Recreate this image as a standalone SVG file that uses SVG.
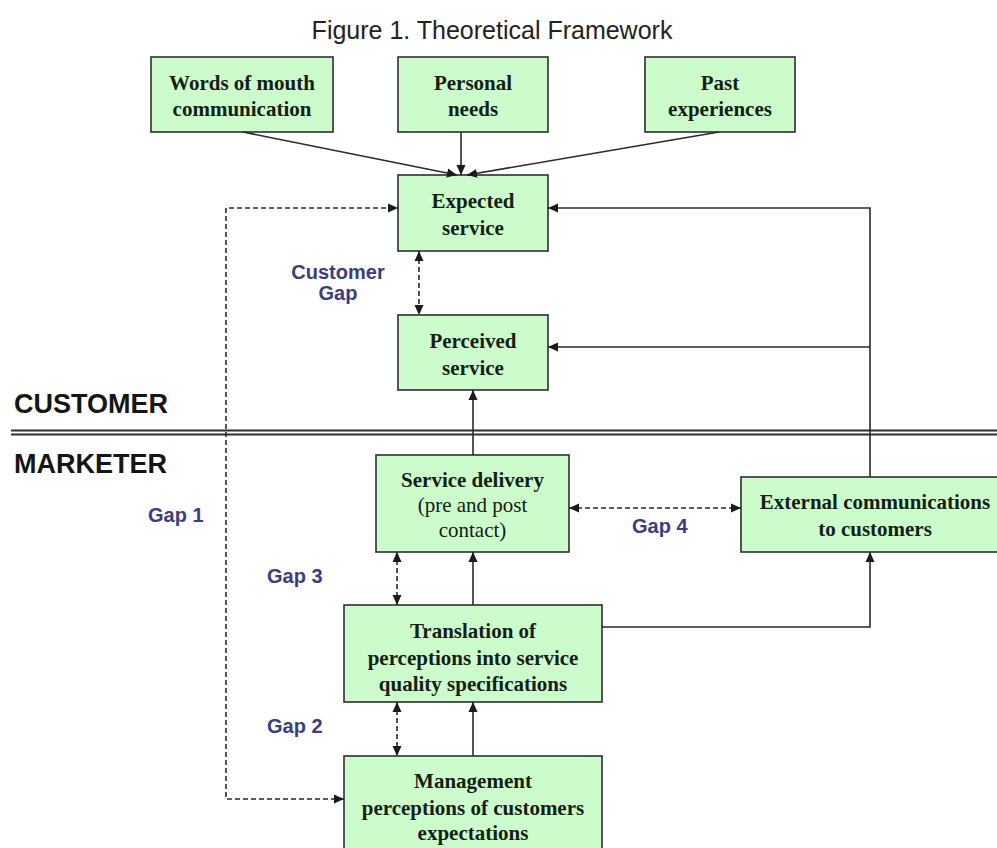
<svg xmlns="http://www.w3.org/2000/svg" width="997" height="848" viewBox="0 0 997 848">
<style>
.box{fill:#ccfccc;stroke:#2e2e2e;stroke-width:1.6}
.bt{font-family:"Liberation Serif","Times New Roman",serif;font-size:21px;font-weight:bold;fill:#142014;text-anchor:middle}
.rt{font-family:"Liberation Serif","Times New Roman",serif;font-size:21px;fill:#142014;text-anchor:middle}
.gap{font-family:"Liberation Sans",Arial,sans-serif;font-size:20px;font-weight:bold;fill:#3c3c7e}
.side{font-family:"Liberation Sans",Arial,sans-serif;font-size:27px;font-weight:bold;fill:#151515}
.ln{fill:none;stroke:#2a2a2a;stroke-width:1.6}
.ds{fill:none;stroke:#2a2a2a;stroke-width:1.6;stroke-dasharray:5 3}
</style>
<defs>
<marker id="ah" viewBox="0 0 10 10" refX="10" refY="5" markerWidth="10" markerHeight="10" markerUnits="userSpaceOnUse" orient="auto-start-reverse">
<path d="M0,0.5 L10,5 L0,9.5 Z" fill="#1a1a1a"/>
</marker>
</defs>
<rect width="997" height="848" fill="#ffffff"/>
<text x="492" y="39" font-family="'Liberation Sans',Arial,sans-serif" font-size="25" fill="#222" text-anchor="middle">Figure 1. Theoretical Framework</text>

<g id="words"><rect class="box" x="151" y="57" width="182" height="75"/><text class="bt" x="242" y="90">Words of mouth</text><text class="bt" x="242" y="116">communication</text></g>
<g id="personal"><rect class="box" x="398" y="57" width="150" height="75"/><text class="bt" x="473" y="90">Personal</text><text class="bt" x="473" y="116">needs</text></g>
<g id="past"><rect class="box" x="645" y="57" width="150" height="75"/><text class="bt" x="720" y="90">Past</text><text class="bt" x="720" y="116">experiences</text></g>
<g id="expected"><rect class="box" x="398" y="175" width="150" height="76"/><text class="bt" x="473" y="208">Expected</text><text class="bt" x="473" y="235">service</text></g>
<g id="perceived"><rect class="box" x="398" y="315" width="150" height="75"/><text class="bt" x="473" y="348">Perceived</text><text class="bt" x="473" y="375">service</text></g>
<g id="delivery"><rect class="box" x="376" y="455" width="193" height="97"/><text class="bt" x="472.5" y="487">Service delivery</text><text class="rt" x="472.5" y="512">(pre and post</text><text class="rt" x="472.5" y="537">contact)</text></g>
<g id="external"><rect class="box" x="741" y="477" width="270" height="75"/><text class="bt" x="875" y="509">External communications</text><text class="bt" x="875" y="536">to customers</text></g>
<g id="translation"><rect class="box" x="344" y="605" width="258" height="97"/><text class="bt" x="473" y="638">Translation of</text><text class="bt" x="473" y="665">perceptions into service</text><text class="bt" x="473" y="691">quality specifications</text></g>
<g id="management"><rect class="box" x="344" y="756" width="258" height="100"/><text class="bt" x="473" y="788">Management</text><text class="bt" x="473" y="815">perceptions of customers</text><text class="bt" x="473" y="840">expectations</text></g>

<g id="labels">
<text class="side" x="14" y="413">CUSTOMER</text>
<text class="side" x="14" y="473">MARKETER</text>
<text class="gap" x="338" y="279" text-anchor="middle">Customer</text>
<text class="gap" x="338" y="300" text-anchor="middle">Gap</text>
<text class="gap" x="148" y="522">Gap 1</text>
<text class="gap" x="267" y="583">Gap 3</text>
<text class="gap" x="267" y="733">Gap 2</text>
<text class="gap" x="632" y="533">Gap 4</text>
</g>

<g id="divider">
<line x1="11" y1="430.5" x2="997" y2="430.5" stroke="#2e2e2e" stroke-width="1.8"/>
<line x1="11" y1="434.5" x2="997" y2="434.5" stroke="#2e2e2e" stroke-width="1.8"/>
</g>

<g id="connectors">
<line class="ln" x1="243" y1="132" x2="457" y2="175" marker-end="url(#ah)"/>
<line class="ln" x1="461" y1="132" x2="461" y2="175" marker-end="url(#ah)"/>
<line class="ln" x1="719" y1="132" x2="467" y2="175" marker-end="url(#ah)"/>
<path class="ds" d="M344,799 H226 V208 H398" marker-start="url(#ah)" marker-end="url(#ah)"/>
<path class="ln" d="M870,477 V208 H548" marker-end="url(#ah)"/>
<path class="ln" d="M870,347 H548" marker-end="url(#ah)"/>
<line class="ds" x1="419" y1="251" x2="419" y2="315" marker-start="url(#ah)" marker-end="url(#ah)"/>
<line class="ln" x1="473" y1="455" x2="473" y2="390" marker-end="url(#ah)"/>
<line class="ds" x1="569" y1="508" x2="741" y2="508" marker-start="url(#ah)" marker-end="url(#ah)"/>
<line class="ds" x1="397" y1="552" x2="397" y2="605" marker-start="url(#ah)" marker-end="url(#ah)"/>
<line class="ln" x1="473" y1="605" x2="473" y2="552" marker-end="url(#ah)"/>
<path class="ln" d="M602,627 H870 V552" marker-end="url(#ah)"/>
<line class="ds" x1="397" y1="702" x2="397" y2="756" marker-start="url(#ah)" marker-end="url(#ah)"/>
<line class="ln" x1="473" y1="756" x2="473" y2="702" marker-end="url(#ah)"/>
</g>
</svg>
